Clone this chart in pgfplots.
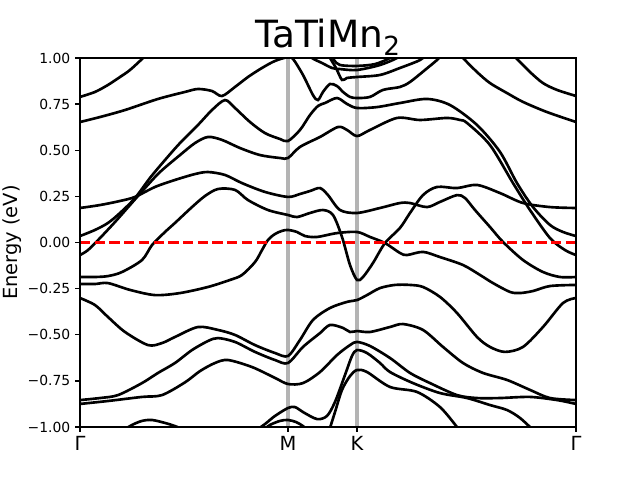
\documentclass[border=0pt]{standalone}
\usepackage{fontspec}
\setmainfont{DejaVu Sans}
\usepackage{pgfplots}
\pgfplotsset{compat=1.18}
\begin{document}
\begin{tikzpicture}
\begin{axis}[
  scale only axis, width=357.12pt, height=265.68pt,
  xmin=80, xmax=576, ymin=-1, ymax=1,
  axis on top=true,
  axis line style={line width=1.5pt},
  xtick={80,288,357,576}, xticklabels={Γ,M,K,Γ},
  ytick={-1,-0.75,-0.5,-0.25,0,0.25,0.5,0.75,1},
  yticklabels={−1.00,−0.75,−0.50,−0.25,0.00,0.25,0.50,0.75,1.00},
  xticklabel style={font=\fontsize{14}{16}\selectfont},
  yticklabel style={font=\fontsize{10}{12}\selectfont},
  tick align=outside, xtick pos=bottom, ytick pos=left,
  major tick length=3.5pt, tick style={line width=1pt, black},
  minor tick num=0,
  title={TaTiMn\textsubscript{2}},
  title style={font=\fontsize{27}{32}\selectfont, at={(0.5,1)}, anchor=base, yshift=1.5pt},
  ylabel={Energy (eV)},
  ylabel style={font=\fontsize{14}{16}\selectfont, at={(axis description cs:-0.137,0.5)}, anchor=center},
  band/.style={black, line width=1.9pt, smooth, no marks},
]
\addplot[color={rgb,255:red,180;green,180;blue,180}, line width=3pt, no marks] coordinates {(288,-1.1) (288,1.1)};
\addplot[color={rgb,255:red,180;green,180;blue,180}, line width=3pt, no marks] coordinates {(357,-1.1) (357,1.1)};
% A
\addplot[band] coordinates {(80,0.789) (95,0.816) (108,0.854) (120,0.897) (130,0.935) (143,1.0) (148,1.033)};
% B
\addplot[band] coordinates {(80,0.653) (100,0.680) (125,0.718) (158,0.778) (185,0.816) (198,0.832) (212,0.821) (222,0.794) (235,0.843) (248,0.897) (262,0.946) (275,0.984) (288,1.005) (293,0.995) (303,0.908) (313,0.799) (318,0.772) (323,0.816) (330,0.859) (337,0.848) (343,0.816) (350,0.789) (357,0.783) (370,0.789) (383,0.827) (400,0.843) (410,0.870) (425,0.935) (437,0.989) (442,1.016)};
% L1
\addplot[band] coordinates {(80,0.035) (95,0.068) (108,0.106) (120,0.160) (135,0.241) (150,0.350) (165,0.447) (180,0.539) (198,0.637) (212,0.718) (225,0.772) (235,0.729) (250,0.653) (265,0.593) (280,0.561) (288,0.550) (300,0.610) (310,0.691) (318,0.740) (325,0.756) (337,0.783) (347,0.751) (357,0.729) (377,0.734) (400,0.756) (427,0.778) (450,0.745) (477,0.637) (500,0.491) (517,0.322) (533,0.192) (550,0.095) (563,0.057) (576,0.035)};
% L2
\addplot[band] coordinates {(80,-0.068) (88,-0.041) (100,0.024) (115,0.111) (130,0.203) (145,0.295) (160,0.382) (180,0.474) (195,0.539) (208,0.572) (222,0.556) (240,0.512) (260,0.474) (280,0.458) (288,0.458) (300,0.518) (320,0.572) (338,0.626) (347,0.610) (357,0.577) (370,0.610) (397,0.675) (420,0.664) (447,0.675) (460,0.664) (467,0.648) (490,0.528) (513,0.322) (530,0.176) (550,0.024) (565,-0.041) (576,-0.068)};
% G0
\addplot[band] coordinates {(80,0.187) (100,0.203) (120,0.225) (135,0.247) (155,0.301) (175,0.339) (195,0.371) (208,0.382) (225,0.366) (242,0.322) (265,0.274) (288,0.247) (300,0.263) (310,0.279) (320,0.295) (328,0.257) (340,0.176) (357,0.160) (380,0.187) (400,0.214) (410,0.214) (427,0.192) (440,0.220) (457,0.257) (465,0.241) (475,0.176) (490,0.084) (503,0.003) (523,-0.095) (543,-0.160) (560,-0.187) (576,-0.187)};
% G2
\addplot[band] coordinates {(80,-0.187) (95,-0.187) (108,-0.182) (122,-0.160) (142,-0.095) (152,-0.014) (165,0.057) (175,0.106) (192,0.192) (205,0.252) (218,0.290) (235,0.285) (248,0.230) (268,0.176) (288,0.149) (297,0.138) (310,0.160) (323,0.176) (333,0.149) (342,0.030) (350,-0.122) (357,-0.203) (363,-0.187) (373,-0.111) (385,-0.003) (400,0.079) (410,0.160) (423,0.257) (437,0.301) (457,0.295) (477,0.312) (500,0.268) (523,0.214) (550,0.192) (576,0.187)};
% G3
\addplot[band] coordinates {(80,-0.225) (95,-0.225) (108,-0.220) (130,-0.257) (155,-0.285) (180,-0.274) (208,-0.241) (230,-0.203) (242,-0.176) (255,-0.106) (262,-0.041) (268,0.014) (275,0.046) (282,0.063) (288,0.068) (297,0.057) (305,0.035) (317,0.030) (337,0.051) (357,0.057) (370,0.030) (385,-0.003) (400,-0.057) (407,-0.068) (423,-0.051) (440,-0.079) (463,-0.122) (480,-0.176) (493,-0.220) (510,-0.268) (520,-0.274) (533,-0.263) (550,-0.236) (576,-0.230)};
% c
\addplot[band] coordinates {(80,-0.301) (95,-0.339) (108,-0.404) (125,-0.485) (148,-0.556) (162,-0.545) (175,-0.512) (198,-0.458) (218,-0.474) (235,-0.501) (255,-0.556) (275,-0.599) (288,-0.615) (300,-0.528) (313,-0.420) (330,-0.355) (347,-0.322) (357,-0.312) (367,-0.285) (380,-0.247) (395,-0.230) (410,-0.230) (423,-0.241) (440,-0.295) (457,-0.382) (477,-0.512) (490,-0.566) (505,-0.593) (523,-0.566) (543,-0.458) (563,-0.328) (576,-0.301)};
% d
\addplot[band] coordinates {(80,-0.854) (100,-0.843) (118,-0.827) (142,-0.762) (158,-0.707) (175,-0.653) (192,-0.583) (208,-0.534) (218,-0.518) (235,-0.539) (255,-0.593) (275,-0.637) (288,-0.653) (303,-0.566) (320,-0.491) (330,-0.447) (343,-0.463) (350,-0.485) (357,-0.480) (370,-0.485) (390,-0.458) (403,-0.442) (423,-0.474) (443,-0.566) (463,-0.653) (483,-0.707) (507,-0.745) (530,-0.799) (550,-0.843) (576,-0.854)};
% e
\addplot[band] coordinates {(80,-0.875) (108,-0.859) (142,-0.837) (162,-0.827) (185,-0.758) (200,-0.697) (215,-0.653) (228,-0.637) (252,-0.675) (275,-0.734) (288,-0.767) (303,-0.762) (320,-0.702) (337,-0.610) (350,-0.556) (357,-0.539) (370,-0.561) (390,-0.626) (410,-0.707) (430,-0.762) (457,-0.827) (477,-0.843) (500,-0.843) (530,-0.837) (557,-0.854) (576,-0.875)};
% f
\addplot[band] coordinates {(255,-1.022) (265,-0.984) (275,-0.940) (288,-0.897) (295,-0.892) (303,-0.919) (317,-0.957) (327,-0.940) (335,-0.864) (345,-0.718) (352,-0.615) (357,-0.583) (367,-0.599) (380,-0.653) (390,-0.702) (413,-0.762) (440,-0.816) (467,-0.843) (490,-0.881) (507,-0.908) (520,-0.951) (533,-1.016)};
% g
\addplot[band] coordinates {(329,-1.022) (335,-0.919) (342,-0.799) (350,-0.724) (357,-0.691) (367,-0.702) (390,-0.783) (417,-0.810) (440,-0.892) (457,-1.0) (460,-1.022)};
% h
\addplot[band] coordinates {(262,-1.022) (270,-0.989) (280,-0.967) (288,-0.962) (296,-0.973) (303,-0.995) (308,-1.022)};
% bottom hump
\addplot[band] coordinates {(122,-1.022) (132,-0.989) (142,-0.967) (152,-0.962) (165,-0.978) (175,-0.995) (187,-1.022)};
% top right lines
\addplot[band] coordinates {(458,1.033) (463,1.0) (477,0.924) (490,0.864) (507,0.810) (523,0.762) (547,0.707) (576,0.653)};
\addplot[band] coordinates {(510,1.033) (517,0.995) (530,0.924) (543,0.864) (557,0.827) (576,0.794)};
\addplot[band] coordinates {(308,1.033) (312,1.0) (322,0.973) (332,0.946) (340,0.940) (357,0.935) (380,0.962) (397,1.0) (402,1.027)};
\addplot[band] coordinates {(327,1.033) (330,1.0) (336,0.946) (342,0.881) (347,0.892) (357,0.897) (380,0.908) (400,0.946) (420,0.989) (428,1.027)};
\addplot[band] coordinates {(331,1.027) (334,0.989) (340,0.962) (357,0.957) (375,0.967) (390,1.0) (395,1.027)};
% Fermi level
\addplot[red, line width=1.9pt, dash pattern=on 7.4pt off 3.2pt, no marks] coordinates {(80,0) (576,0)};
\end{axis}
\pgfresetboundingbox
\path ([shift={(-57.6pt,-38.16pt)}]current axis.south west) rectangle ([shift={(46.08pt,41.76pt)}]current axis.north east);
\end{tikzpicture}
\end{document}
